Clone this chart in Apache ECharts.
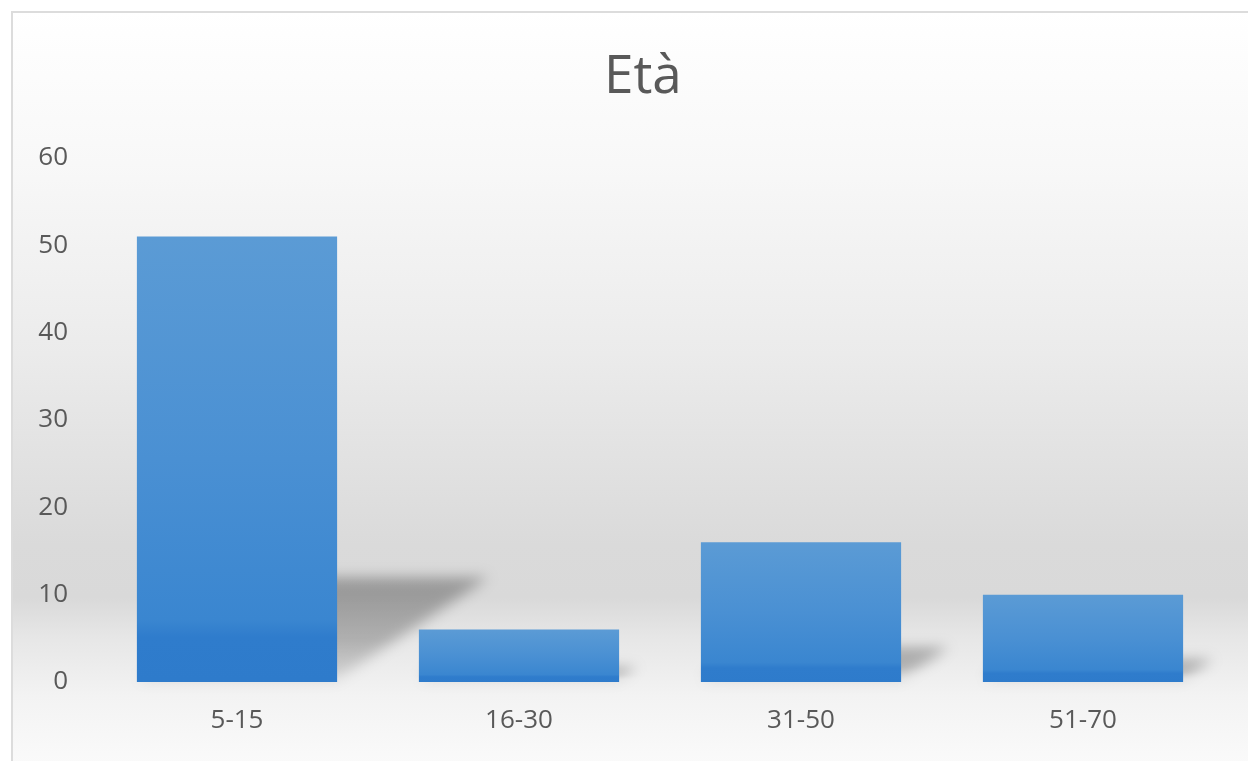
<!DOCTYPE html>
<html><head><meta charset="utf-8">
<script src="https://cdn.jsdelivr.net/npm/echarts@6/dist/echarts.min.js"></script>
<style>html,body{margin:0;padding:0;background:#fff}#c{width:1248px;height:761px}</style>
</head><body><div id="c"></div>
<script>
const titleText = 'Età';
const categories = ['5-15', '16-30', '31-50', '51-70'];
const values = [51, 6, 16, 10];
const yMin = 0, yMax = 60, yInterval = 10;

const BAR_RATIO = 0.71;
const SHIFT = 3000;
const chart = echarts.init(document.getElementById('c'));
const FONT = '"Open Sans", sans-serif';

chart.setOption({
  backgroundColor: '#ffffff',
  animation: false,
  graphic: [{
    type: 'rect', z: -10, silent: true,
    shape: { x: 12, y: 12, width: 1248, height: 760 },
    style: {
      fill: new echarts.graphic.LinearGradient(0, 0, 0, 1, [
        { offset: 0, color: '#ffffff' },
        { offset: 0.2, color: '#f8f8f8' },
        { offset: 0.45, color: '#ebebeb' },
        { offset: 0.7, color: '#dadada' },
        { offset: 0.77, color: '#d9d9d9' },
        { offset: 0.82, color: '#e6e6e6' },
        { offset: 0.9, color: '#f3f3f3' },
        { offset: 1, color: '#fbfbfb' }
      ]),
      stroke: '#dcdcdc', lineWidth: 2
    }
  }],
  title: {
    text: titleText, left: 599, top: 46,
    textStyle: { fontFamily: FONT, fontSize: 53, fontWeight: 'normal', color: '#595959' }
  },
  grid: { left: 96, right: 24, top: 158, bottom: 79 },
  xAxis: {
    type: 'category', data: categories,
    axisLine: { show: false }, axisTick: { show: false },
    axisLabel: { margin: 26, fontFamily: FONT, fontSize: 26, color: '#595959' }
  },
  yAxis: {
    type: 'value', min: yMin, max: yMax, interval: yInterval,
    axisLine: { show: false }, axisTick: { show: false }, splitLine: { show: false },
    axisLabel: { margin: 28, fontFamily: FONT, fontSize: 26, color: '#595959' }
  },
  series: [{
    type: 'custom', z: 1, silent: true, clip: false,
    data: values.map((v, i) => [i, v]),
    renderItem: function (params, api) {
      const idx = api.value(0), v = api.value(1);
      const base = api.coord([idx, 0]);
      const top = api.coord([idx, v]);
      const bw = api.size([1, 0])[0] * BAR_RATIO;
      const xL = base[0] - bw / 2, xR = base[0] + bw / 2;
      const h = base[1] - top[1];
      const dx = h * 0.34, dy = h * 0.23;
      const y0 = base[1] - 2;
      return {
        type: 'polygon',
        shape: { points: [[xL - SHIFT, y0], [xR - SHIFT, y0], [xR + dx - SHIFT, y0 - dy], [xL + dx - SHIFT, y0 - dy]] },
        style: {
          fill: new echarts.graphic.LinearGradient(0, 0, 0, 1, [
            { offset: 0, color: 'rgba(0,0,0,1)' },
            { offset: 0.6, color: 'rgba(0,0,0,0.8)' },
            { offset: 1, color: 'rgba(0,0,0,0.35)' }
          ]),
          shadowBlur: 14, shadowColor: 'rgba(0,0,0,0.3)',
          shadowOffsetX: SHIFT, shadowOffsetY: 0
        }
      };
    }
  }, {
    type: 'bar', z: 2,
    data: values,
    barWidth: (BAR_RATIO * 100) + '%',
    itemStyle: {
      color: new echarts.graphic.LinearGradient(0, 0, 0, 1, [
        { offset: 0, color: '#5b9bd5' },
        { offset: 0.5, color: '#4a90d3' },
        { offset: 0.86, color: '#3a86d0' },
        { offset: 0.9, color: '#2f7ccc' },
        { offset: 1, color: '#2e7bcb' }
      ])
    }
  }]
});
</script></body></html>
